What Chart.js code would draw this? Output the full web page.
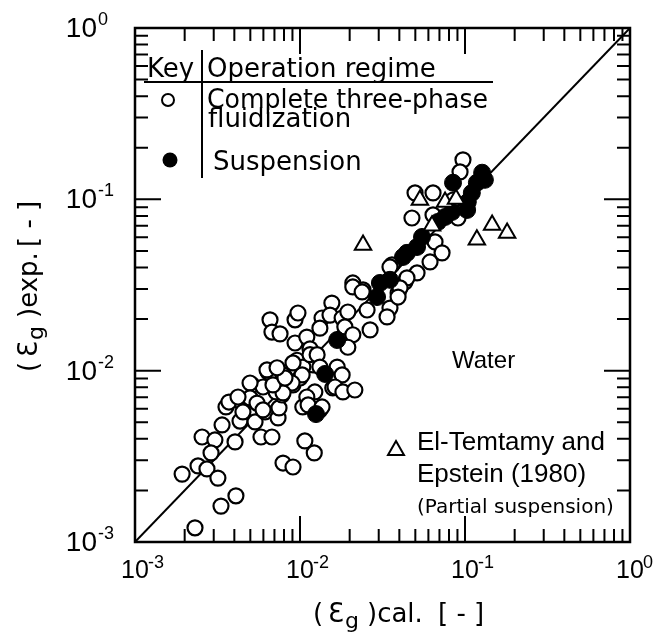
<!DOCTYPE html>
<html>
<head>
<meta charset="utf-8">
<script src="https://cdn.jsdelivr.net/npm/chart.js@4/dist/chart.umd.min.js"></script>
<style>
  html, body { margin: 0; padding: 0; background: #fff; }
  canvas { display: block; }
</style>
</head>
<body>
<canvas id="grafica" width="656" height="632"></canvas>
<script>
// complete three-phase fluidization (open circles)
var openCal = [0.00231, 0.00193, 0.00241, 0.00273, 0.00318, 0.00332, 0.00409, 0.00255, 0.00305, 0.00289,
  0.00404, 0.00337, 0.00356, 0.00415, 0.00433, 0.00498, 0.00512, 0.00534, 0.0058, 0.00676,
  0.00614, 0.00736, 0.00746, 0.00597, 0.0064, 0.00726, 0.00811, 0.00778, 0.00716, 0.00907,
  0.0100, 0.0120, 0.0123, 0.0104, 0.0132, 0.0158, 0.0107, 0.0122, 0.00789, 0.00907,
  0.00371, 0.00658, 0.00676, 0.00757, 0.00933, 0.00972, 0.00933, 0.0110, 0.0115, 0.0136,
  0.0132, 0.0156, 0.0152, 0.0180, 0.0195, 0.0187, 0.0209, 0.0195, 0.0209, 0.0241,
  0.0255, 0.0266, 0.0351, 0.0337, 0.0393, 0.0433, 0.0361, 0.00959, 0.0104, 0.0115,
  0.0127, 0.0132, 0.0168, 0.0180, 0.0163, 0.0182, 0.0215, 0.0110, 0.0112, 0.0136,
  0.0103, 0.00895, 0.00789, 0.00789, 0.00686, 0.00631, 0.00498, 0.00498, 0.00421, 0.00549,
  0.00597, 0.00451, 0.00811, 0.00907, 0.00726, 0.0972, 0.0933, 0.0907, 0.0498, 0.0640,
  0.0477, 0.0640, 0.0658, 0.0726, 0.0614, 0.0351, 0.0512, 0.0445, 0.0404, 0.0393,
  0.0209, 0.0238, 0.0846];
var openExp = [0.00121, 0.00249, 0.00278, 0.00267, 0.00236, 0.00162, 0.00186, 0.0041, 0.00394, 0.00331,
  0.00384, 0.00482, 0.00614, 0.00675, 0.00508, 0.00675, 0.00826, 0.00502, 0.0041, 0.0041,
  0.00574, 0.0053, 0.00606, 0.00803, 0.00982, 0.0097, 0.00918, 0.00721, 0.00751, 0.00826,
  0.00906, 0.0108, 0.00751, 0.00614, 0.0059, 0.00792, 0.00389, 0.00331, 0.00289, 0.00274,
  0.00656, 0.0198, 0.0168, 0.0164, 0.0198, 0.0217, 0.0145, 0.0157, 0.0134, 0.0203,
  0.0177, 0.0248, 0.0211, 0.0203, 0.0220, 0.0180, 0.0162, 0.0137, 0.0325, 0.0296,
  0.0226, 0.0173, 0.0232, 0.0206, 0.0284, 0.0330, 0.0414, 0.0115, 0.0105, 0.0124,
  0.0124, 0.0105, 0.0105, 0.00944, 0.00803, 0.00751, 0.00771, 0.00702, 0.00631, 0.00614,
  0.00944, 0.00847, 0.00944, 0.00741, 0.00826, 0.0101, 0.00847, 0.00693, 0.00702, 0.00647,
  0.0059, 0.00574, 0.00906, 0.0111, 0.0104, 0.170, 0.1445, 0.0778, 0.109, 0.109,
  0.0778, 0.0811, 0.0564, 0.0487, 0.0431, 0.0403, 0.0372, 0.0348, 0.0304, 0.0269,
  0.0308, 0.0288, 0.0991];

// suspension (filled circles)
var suspCal = [0.0125, 0.0142, 0.0168, 0.0293, 0.0305, 0.0351, 0.0421, 0.0445, 0.0512, 0.0549,
  0.0686, 0.0757, 0.0834, 0.0846, 0.103, 0.104, 0.110, 0.118, 0.127, 0.132];
var suspExp = [0.00558, 0.00957, 0.0151, 0.0269, 0.0325, 0.0339, 0.0461, 0.0487, 0.0527, 0.0603,
  0.0738, 0.0789, 0.0844, 0.125, 0.0867, 0.0966, 0.109, 0.125, 0.143, 0.130];

// El-Temtamy and Epstein (1980), partial suspension (triangles)
var elCal = [0.0241, 0.0533, 0.0631, 0.0757, 0.0882, 0.118, 0.146, 0.180];
var elExp = [0.0542, 0.0991, 0.0700, 0.0966, 0.1005, 0.058, 0.0709, 0.0637];

// 45 degree line
var lineaVals = [0.001, 1];

// axis ticks
var decadas = [0.001, 0.01, 0.1, 1];
var exponentes = ['-3', '-2', '-1', '0'];
var menores = [2, 3, 4, 5, 6, 7, 8, 9];

function pares(xs, ys) {
  return xs.map(function (x, i) { return { x: x, y: ys[i] }; });
}

var marco = {
  id: 'marco',
  afterDraw: function (chart) {
    var ctx = chart.ctx;
    var a = chart.chartArea;
    var sx = chart.scales.x;
    var sy = chart.scales.y;
    ctx.save();
    ctx.strokeStyle = '#000';
    ctx.fillStyle = '#000';

    // frame
    ctx.lineWidth = 2.5;
    ctx.strokeRect(a.left, a.top, a.right - a.left, a.bottom - a.top);

    // inward ticks on all four sides
    ctx.lineWidth = 2;
    function tick(v, len) {
      var px = sx.getPixelForValue(v);
      var py = sy.getPixelForValue(v);
      ctx.beginPath();
      ctx.moveTo(px, a.bottom); ctx.lineTo(px, a.bottom - len);
      ctx.moveTo(px, a.top); ctx.lineTo(px, a.top + len);
      ctx.moveTo(a.left, py); ctx.lineTo(a.left + len, py);
      ctx.moveTo(a.right, py); ctx.lineTo(a.right - len, py);
      ctx.stroke();
    }
    decadas.forEach(function (d, i) {
      tick(d, 26);
      if (i < decadas.length - 1) {
        menores.forEach(function (m) { tick(m * d, 13); });
      }
    });

    // tick labels 10^n
    decadas.forEach(function (d, i) {
      var py = sy.getPixelForValue(d);
      ctx.textAlign = 'right';
      ctx.font = '28px "Liberation Sans"';
      ctx.fillText('10', 97, py + 9);
      ctx.textAlign = 'left';
      ctx.font = '18px "Liberation Sans"';
      ctx.fillText(exponentes[i], 98, py - 3);

      var px = sx.getPixelForValue(d);
      ctx.textAlign = 'center';
      ctx.font = '25px "Liberation Sans"';
      ctx.fillText('10', px, 578);
      ctx.textAlign = 'left';
      ctx.font = '18px "Liberation Sans"';
      ctx.fillText(exponentes[i], px + 13, 568);
    });

    // axis titles
    function titulo(sufijo, finalW) {
      ctx.textAlign = 'left';
      ctx.font = '26px "DejaVu Sans"';
      ctx.fillText('(', 0, 0);
      ctx.fillText('\u0190', 15, 0, 16);
      ctx.font = '22px "DejaVu Sans"';
      ctx.fillText('g', 32, 6);
      ctx.font = '26px "DejaVu Sans"';
      ctx.fillText(')' + sufijo, 54, 0);
      ctx.fillText('[ - ]', 125, 0, finalW);
    }
    ctx.save();
    ctx.translate(313, 622);
    titulo('cal.', 62);
    ctx.restore();
    ctx.save();
    ctx.translate(37, 372);
    ctx.rotate(-Math.PI / 2);
    titulo('exp.', 78);
    ctx.restore();

    // key box
    ctx.lineWidth = 2;
    ctx.beginPath();
    ctx.moveTo(144, 82); ctx.lineTo(493, 82);
    ctx.moveTo(202, 50); ctx.lineTo(202, 178);
    ctx.stroke();
    ctx.textAlign = 'left';
    ctx.font = '26px "DejaVu Sans"';
    ctx.fillText('Key', 147, 77, 48);
    ctx.fillText('Operation regime', 207, 77, 241);
    ctx.fillText('Complete three-phase', 207, 108, 281);
    ctx.fillText('fluidization', 208, 127, 155);
    ctx.fillText('Suspension', 213, 170, 157);
    ctx.beginPath();
    ctx.arc(168, 100, 6, 0, Math.PI * 2);
    ctx.stroke();
    ctx.beginPath();
    ctx.arc(170, 160, 7.5, 0, Math.PI * 2);
    ctx.fill();

    ctx.font = '24px "Liberation Sans"';
    ctx.fillText('Water', 452, 368, 66);

    ctx.beginPath();
    ctx.moveTo(396, 441); ctx.lineTo(404, 455); ctx.lineTo(388, 455); ctx.closePath();
    ctx.stroke();
    ctx.font = '26px "Liberation Sans"';
    ctx.fillText('El-Temtamy and', 417, 450, 195);
    ctx.fillText('Epstein (1980)', 417, 482, 175);
    ctx.font = '20px "DejaVu Sans"';
    ctx.fillText('(Partial suspension)', 417, 513, 206);
    ctx.restore();
  }
};

new Chart(document.getElementById('grafica').getContext('2d'), {
  type: 'scatter',
  data: {
    datasets: [
      {
        label: 'line',
        data: pares(lineaVals, lineaVals),
        showLine: true,
        borderColor: '#000',
        borderWidth: 2,
        pointRadius: 0,
        order: 4
      },
      {
        label: 'Complete three-phase fluidization',
        data: pares(openCal, openExp),
        pointRadius: 7.5,
        pointBorderWidth: 2.2,
        pointBorderColor: '#000',
        pointBackgroundColor: '#fff',
        order: 3
      },
      {
        label: 'Suspension',
        data: pares(suspCal, suspExp),
        pointRadius: 8.5,
        pointBorderWidth: 1,
        pointBorderColor: '#000',
        pointBackgroundColor: '#000',
        order: 2
      },
      {
        label: 'El-Temtamy and Epstein (1980)',
        data: pares(elCal, elExp),
        pointStyle: 'triangle',
        pointRadius: 9.5,
        pointBorderWidth: 2,
        pointBorderColor: '#000',
        pointBackgroundColor: '#fff',
        order: 1
      }
    ]
  },
  options: {
    responsive: false,
    animation: false,
    devicePixelRatio: 1,
    events: [],
    layout: { padding: { left: 135, top: 28, right: 26, bottom: 90 } },
    plugins: { legend: { display: false }, tooltip: { enabled: false } },
    scales: {
      x: { type: 'logarithmic', min: 0.001, max: 1, display: false },
      y: { type: 'logarithmic', min: 0.001, max: 1, display: false }
    }
  },
  plugins: [marco]
});
</script>
</body>
</html>
